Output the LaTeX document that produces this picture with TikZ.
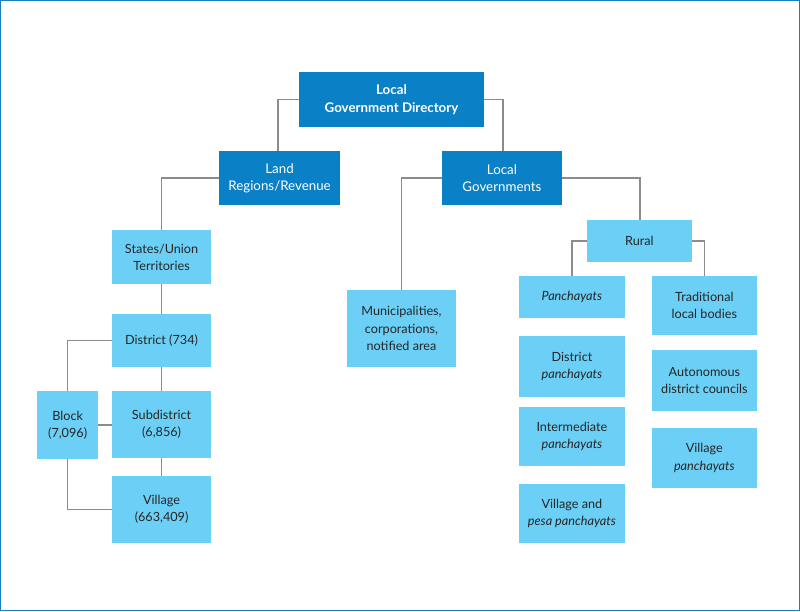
\documentclass[tikz,border=0pt]{standalone}
\usepackage{fontspec}
\setmainfont{Lato}
\definecolor{dk}{HTML}{0A80C6}
\definecolor{lt}{HTML}{6CCFF6}
\definecolor{ln}{HTML}{8C8C8C}
\definecolor{fr}{HTML}{1A7FC1}
\begin{document}
\begin{tikzpicture}[x=0.75pt,y=-0.75pt,
  dbox/.style={fill=dk,draw=none,text=white,align=center,inner sep=0pt,font=\fontsize{10}{13}\selectfont},
  lbox/.style={fill=lt,draw=none,text=black!85,align=center,inner sep=0pt,font=\fontsize{9.5}{13}\selectfont},
  con/.style={draw=ln,line width=0.9pt}]
\draw[fr,line width=1pt] (0.5,0.5) rectangle (799.5,610.5);
\useasboundingbox (0,0) rectangle (800,611);
\newcommand{\bx}[7]{\node[#1,minimum width={(#4-#2)*0.75pt},minimum height={(#5-#3)*0.75pt}] (#6) at ({(#2+#4)/2},{(#3+#5)/2}) {#7};}
\bx{dbox}{299}{72}{484}{127}{top}{\bfseries Local\\\bfseries Government Directory}
\bx{dbox}{219}{151}{340}{205}{land}{Land\\Regions/Revenue}
\bx{dbox}{442}{151}{562}{205}{lg}{Local\\Governments}
\bx{lbox}{112}{230}{211}{284}{st}{States/Union\\Territories}
\bx{lbox}{112}{314}{211}{367}{dist}{District (734)}
\bx{lbox}{112}{391}{211}{458}{sub}{Subdistrict\\(6,856)}
\bx{lbox}{112}{476}{211}{543}{vil}{Village\\(663,409)}
\bx{lbox}{37}{391}{98}{459}{blk}{Block\\(7,096)}
\bx{lbox}{347}{290}{456}{367}{mun}{Municipalities,\\corporations,\\notified area}
\bx{lbox}{587}{220}{692}{262}{rur}{Rural}
\bx{lbox}{519}{276}{625}{318}{pan}{\itshape Panchayats}
\bx{lbox}{519}{336}{625}{397}{dpan}{District\\\itshape panchayats}
\bx{lbox}{519}{407}{625}{466}{ipan}{Intermediate\\\itshape panchayats}
\bx{lbox}{519}{484}{625}{543}{vpan}{Village and\\\itshape pesa panchayats}
\bx{lbox}{652}{276}{757}{335}{trad}{Traditional\\local bodies}
\bx{lbox}{652}{350}{757}{411}{auto}{Autonomous\\district councils}
\bx{lbox}{652}{428}{757}{488}{vp}{Village\\\itshape panchayats}
\begin{scope}[on background layer/.style={}]
\draw[con] (top.west) -| (land.north -| 278,0);
\draw[con] (top.east) -| (lg.north -| 503,0);
\draw[con] (land.west) -| (st.north);
\draw[con] (lg.west) -| (mun.north);
\draw[con] (lg.east) -| (rur.north -| 640,0);
\draw[con] (rur.west) -| (pan.north -| 572,0);
\draw[con] (rur.east) -| (trad.north -| 705,0);
\draw[con] (st) -- (dist);
\draw[con] (dist) -- (sub);
\draw[con] (sub) -- (vil);
\draw[con] (dist.west) -| (blk.north);
\draw[con] (blk.south) |- (vil.west);
\draw[con] (blk.east) -- (sub.west |- blk.east);
\end{scope}
\end{tikzpicture}
\end{document}
